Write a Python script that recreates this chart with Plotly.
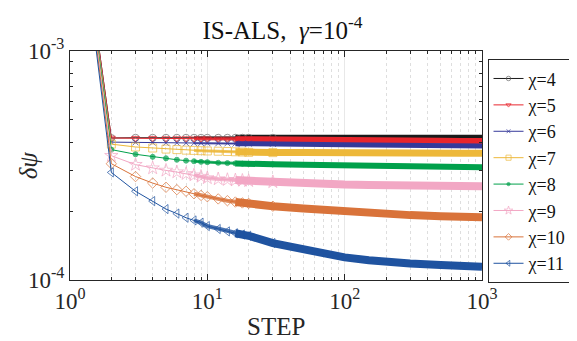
import plotly.graph_objects as go

# ---- data ----
steps = [1, 2, 3, 4, 5, 6, 7, 8, 9, 10, 12, 14, 16, 18, 20, 30, 50, 70, 100, 150, 200, 300, 500, 700, 1000]

chi4 = [85e-4, 4.17e-4, 4.18e-4, 4.18e-4, 4.18e-4, 4.18e-4, 4.18e-4, 4.18e-4, 4.18e-4, 4.18e-4, 4.18e-4, 4.18e-4,
        4.18e-4, 4.18e-4, 4.18e-4, 4.18e-4, 4.18e-4, 4.18e-4, 4.18e-4, 4.18e-4, 4.18e-4, 4.18e-4, 4.18e-4, 4.18e-4, 4.18e-4]
chi5 = [85e-4, 4.17e-4, 4.16e-4, 4.16e-4, 4.15e-4, 4.15e-4, 4.15e-4, 4.14e-4, 4.14e-4, 4.14e-4, 4.13e-4, 4.13e-4,
        4.12e-4, 4.12e-4, 4.12e-4, 4.11e-4, 4.10e-4, 4.09e-4, 4.08e-4, 4.075e-4, 4.07e-4, 4.06e-4, 4.06e-4, 4.05e-4, 4.05e-4]
chi6 = [85e-4, 4.00e-4, 3.99e-4, 3.98e-4, 3.97e-4, 3.97e-4, 3.96e-4, 3.96e-4, 3.96e-4, 3.96e-4, 3.95e-4, 3.95e-4,
        3.94e-4, 3.94e-4, 3.94e-4, 3.93e-4, 3.92e-4, 3.91e-4, 3.90e-4, 3.89e-4, 3.88e-4, 3.87e-4, 3.86e-4, 3.86e-4, 3.85e-4]
chi7 = [85e-4, 3.92e-4, 3.81e-4, 3.77e-4, 3.73e-4, 3.71e-4, 3.69e-4, 3.68e-4, 3.67e-4, 3.66e-4, 3.65e-4, 3.64e-4,
        3.63e-4, 3.62e-4, 3.61e-4, 3.60e-4, 3.60e-4, 3.59e-4, 3.59e-4, 3.59e-4, 3.59e-4, 3.58e-4, 3.58e-4, 3.58e-4, 3.58e-4]
chi8 = [85e-4, 3.71e-4, 3.54e-4, 3.45e-4, 3.40e-4, 3.35e-4, 3.32e-4, 3.30e-4, 3.28e-4, 3.27e-4, 3.25e-4, 3.24e-4,
        3.23e-4, 3.22e-4, 3.22e-4, 3.20e-4, 3.19e-4, 3.18e-4, 3.17e-4, 3.17e-4, 3.17e-4, 3.16e-4, 3.16e-4, 3.13e-4, 3.11e-4]
chi9 = [85e-4, 3.49e-4, 3.19e-4, 3.08e-4, 3.01e-4, 2.96e-4, 2.91e-4, 2.87e-4, 2.83e-4, 2.79e-4, 2.76e-4, 2.74e-4,
        2.73e-4, 2.72e-4, 2.71e-4, 2.68e-4, 2.65e-4, 2.63e-4, 2.61e-4, 2.60e-4, 2.59e-4, 2.58e-4, 2.57e-4, 2.57e-4, 2.57e-4]
chi10 = [85e-4, 3.22e-4, 2.83e-4, 2.65e-4, 2.54e-4, 2.48e-4, 2.44e-4, 2.38e-4, 2.34e-4, 2.31e-4, 2.26e-4, 2.22e-4,
         2.19e-4, 2.17e-4, 2.16e-4, 2.10e-4, 2.05e-4, 2.02e-4, 1.99e-4, 1.96e-4, 1.94e-4, 1.92e-4, 1.90e-4, 1.89e-4, 1.88e-4]
chi11 = [85e-4, 2.95e-4, 2.44e-4, 2.21e-4, 2.04e-4, 1.95e-4, 1.87e-4, 1.82e-4, 1.78e-4, 1.72e-4, 1.67e-4, 1.63e-4,
         1.60e-4, 1.58e-4, 1.56e-4, 1.45e-4, 1.355e-4, 1.30e-4, 1.255e-4, 1.22e-4, 1.20e-4, 1.18e-4, 1.163e-4, 1.153e-4, 1.143e-4]

series_names = ["χ=4", "χ=5", "χ=6", "χ=7", "χ=8", "χ=9", "χ=10", "χ=11"]
series_values = [chi4, chi5, chi6, chi7, chi8, chi9, chi10, chi11]

x_tick_vals = [1, 10, 100, 1000]
x_tick_text = ["10<sup>0</sup>", "10<sup>1</sup>", "10<sup>2</sup>", "10<sup>3</sup>"]
x_minor_vals = [2, 3, 4, 5, 6, 7, 8, 9, 20, 30, 40, 50, 60, 70, 80, 90, 200, 300, 400, 500, 600, 700, 800, 900]
y_tick_vals = [1e-4, 1e-3]
y_tick_text = ["10<sup>-4</sup>", "10<sup>-3</sup>"]
y_minor_vals = [2e-4, 3e-4, 4e-4, 5e-4, 6e-4, 7e-4, 8e-4, 9e-4]

# ---- styles ----
colors = ["#1a1a1a", "#e8262d", "#35399a", "#edb83a", "#00a04b", "#f2a7c4", "#d9733a", "#1f53a0"]
marker_colors = ["#666666", "#e8262d", "#35399a", "#edb83a", "#00a04b", "#f2a7c4", "#d9733a", "#1f53a0"]
symbols = ["circle-open", "triangle-down-open", "x-thin-open", "square-open", "circle",
           "star-open", "diamond-open", "triangle-left-open"]
msizes = [7, 7, 6, 8, 5, 10, 8, 8]
band_widths = [6, 6, 5, 7, 6, 8, 8, 8]
FONT = "Liberation Serif, Times New Roman, serif"
AX = "#262626"

fig = go.Figure()
thin_band_start = 8
band_start = 16
marker_end = 30
for i, (name, vals) in enumerate(zip(series_names, series_values)):
    # thinner band where markers begin to overlap
    tx = [s for s in steps if s >= thin_band_start]
    ty = [v for s, v in zip(steps, vals) if s >= thin_band_start]
    fig.add_trace(go.Scatter(
        x=tx, y=ty, mode="lines", line=dict(color=colors[i], width=max(2, band_widths[i] // 2)),
        opacity=0.8, showlegend=False, legendgroup=name, hoverinfo="skip"))
    # full band where markers merge completely
    bx = [s for s in steps if s >= band_start]
    by = [v for s, v in zip(steps, vals) if s >= band_start]
    fig.add_trace(go.Scatter(
        x=bx, y=by, mode="lines", line=dict(color=colors[i], width=band_widths[i]),
        showlegend=False, legendgroup=name, hoverinfo="skip"))
    msz = [msizes[i] if s <= marker_end else 0 for s in steps]
    mc = marker_colors[i]
    fig.add_trace(go.Scatter(
        x=steps, y=vals, mode="lines+markers", name=name, legendgroup=name,
        line=dict(color=colors[i], width=1),
        marker=dict(symbol=symbols[i], size=msz, color=mc, line=dict(width=1, color=mc))))

fig.update_xaxes(
    type="log", range=[0, 3], tickvals=x_tick_vals, ticktext=x_tick_text,
    ticks="inside", ticklen=6, tickcolor=AX, showline=True, linecolor=AX, linewidth=1,
    mirror="ticks", showgrid=True, gridcolor="#e8e8e8", gridwidth=1, zeroline=False,
    tickfont=dict(family=FONT, size=23, color=AX),
    minor=dict(tickvals=x_minor_vals, ticks="inside", ticklen=3, tickcolor=AX,
               showgrid=True, gridcolor="#dedede", griddash="dot", gridwidth=1))
fig.update_yaxes(
    type="log", range=[-4, -3], tickvals=y_tick_vals, ticktext=y_tick_text,
    ticks="inside", ticklen=6, tickcolor=AX, showline=True, linecolor=AX, linewidth=1,
    mirror="ticks", showgrid=False, zeroline=False,
    tickfont=dict(family=FONT, size=23, color=AX),
    minor=dict(tickvals=y_minor_vals, ticks="inside", ticklen=3, tickcolor=AX, showgrid=False))

fig.update_layout(
    width=577, height=341, margin=dict(l=62, r=90, t=43, b=69),
    plot_bgcolor="white", paper_bgcolor="white",
    title=dict(text="IS-ALS,\u00a0\u00a0<i>γ</i>=10<sup>-4</sup>", x=(62 + 487) / 2 / 577, xanchor="center",
               y=1 - 22 / 341, yanchor="middle", font=dict(family=FONT, size=25, color="#111111")),
    legend=dict(x=1.0134, y=(272.3 - 51) / 229.6, xanchor="left", yanchor="top", bgcolor="white",
                bordercolor=AX, borderwidth=1, font=dict(family=FONT, size=18, color="#111111"),
                tracegroupgap=0, itemwidth=30),
    showlegend=True,
    annotations=[
        dict(text="STEP", xref="paper", yref="paper", x=0.5, y=(272.3 - 319) / 229.6, yanchor="middle",
             showarrow=False, font=dict(family=FONT, size=25, color=AX)),
        dict(text="<i>δψ</i>", xref="paper", yref="paper", x=-0.1, y=0.5, textangle=-90,
             xanchor="center", yanchor="middle", showarrow=False,
             font=dict(family=FONT, size=25, color=AX)),
    ],
)

fig.write_html("out.html")
